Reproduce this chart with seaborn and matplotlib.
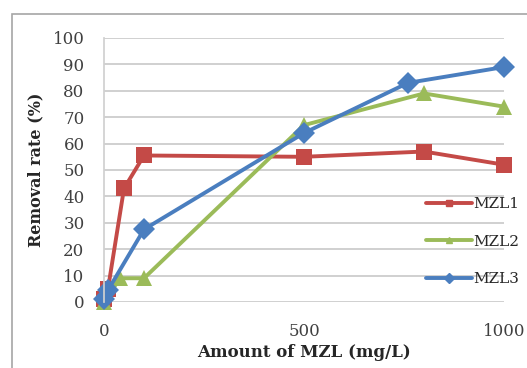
import pandas as pd
import matplotlib.pyplot as plt
import matplotlib.patches as mpatches
import seaborn as sns

# 数据
mzl1_x = [0, 10, 50, 100, 500, 800, 1000]
mzl1_y = [1, 5, 43, 55.5, 55, 57, 52]
mzl2_x = [0, 40, 100, 500, 800, 1000]
mzl2_y = [0, 9, 9, 67, 79, 74]
mzl3_x = [0, 10, 100, 500, 760, 1000]
mzl3_y = [1, 4.5, 27.5, 64, 83, 89]
x_ticks = [0, 500, 1000]
y_ticks = list(range(0, 101, 10))


def build_frame():
    rows = []
    for name, xs, ys in [("MZL1", mzl1_x, mzl1_y), ("MZL2", mzl2_x, mzl2_y), ("MZL3", mzl3_x, mzl3_y)]:
        for x, y in zip(xs, ys):
            rows.append({"dose": x, "rate": y, "series": name})
    return pd.DataFrame(rows)


def main():
    data = build_frame()
    sns.set_theme(style="white")
    plt.rcParams["font.family"] = ["DejaVu Serif"]

    fig = plt.figure(figsize=(5.27, 3.68), dpi=100)
    ax = fig.add_axes([104 / 527, 1 - 302 / 368, 400 / 527, 264 / 368])

    # 外框
    fig.patches.append(mpatches.Rectangle((12 / 527, -0.1), 1.2, 1 - 14 / 368 + 0.1,
                                          transform=fig.transFigure, fill=False,
                                          edgecolor="#a6a6a6", linewidth=1.2))

    palette = {"MZL1": "#c44a47", "MZL2": "#9bbb59", "MZL3": "#4a7ebf"}
    markers = {"MZL1": "s", "MZL2": "^", "MZL3": "D"}
    sns.lineplot(data=data, x="dose", y="rate", hue="series", style="series",
                 palette=palette, markers=markers, dashes=False, markersize=11,
                 markeredgewidth=0, linewidth=2.8, ax=ax, legend=False, clip_on=False)

    ax.set_xlim(0, 1000)
    ax.set_ylim(0, 100)
    ax.set_xticks(x_ticks)
    ax.set_yticks(y_ticks)
    ax.yaxis.grid(True, color="#c8c8c8", linewidth=1.2)
    ax.xaxis.grid(False)
    ax.set_axisbelow(True)
    for side in ["top", "right", "bottom"]:
        ax.spines[side].set_visible(False)
    ax.spines["left"].set_color("#d0d0d0")
    ax.tick_params(axis="both", length=0, labelsize=12, colors="#404040")
    ax.tick_params(axis="x", pad=15)
    ax.tick_params(axis="y", pad=14)

    ax.set_xlabel("Amount of MZL (mg/L)", fontsize=12, fontweight="bold", labelpad=3)
    ax.set_ylabel("Removal rate (%)", fontsize=11.5, fontweight="bold", labelpad=6)

    handles = [plt.Line2D([], [], color=palette[k], marker=markers[k], markersize=5,
                          linewidth=2.8) for k in ["MZL1", "MZL2", "MZL3"]]
    ax.legend(handles=handles, labels=["MZL1", "MZL2", "MZL3"], loc="upper left",
              bbox_to_anchor=(0.79, 0.42), frameon=False, fontsize=11,
              handlelength=3.0, handletextpad=0.1, labelspacing=1.54,
              borderaxespad=0)

    plt.savefig("out.png", dpi=100)
    plt.close()


if __name__ == "__main__":
    main()
